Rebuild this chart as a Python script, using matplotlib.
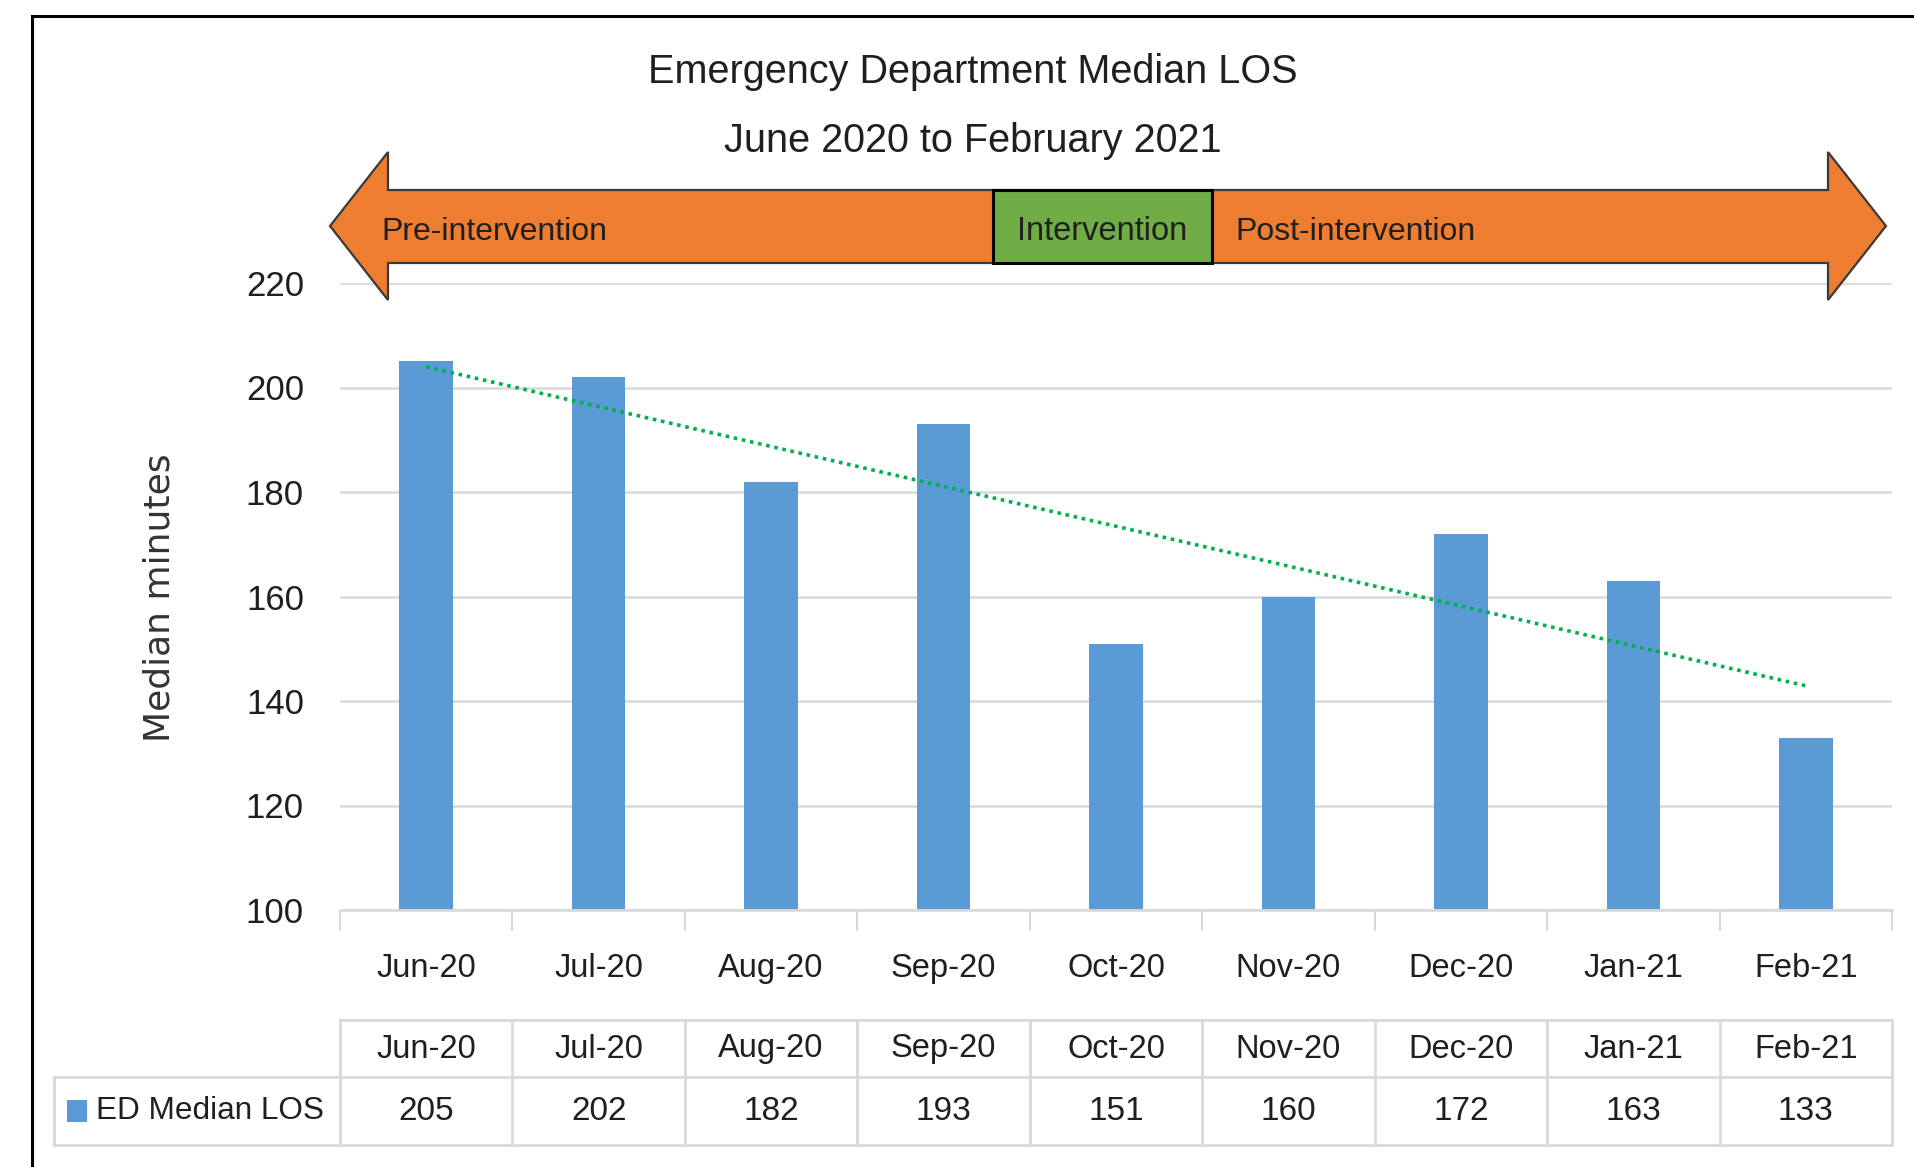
import numpy as np
import matplotlib
matplotlib.use("Agg")
import matplotlib.pyplot as plt
from matplotlib import font_manager
from matplotlib.patches import Polygon, Rectangle
from matplotlib.transforms import blended_transform_factory

# ---- data ----
categories = ["Jun-20", "Jul-20", "Aug-20", "Sep-20", "Oct-20", "Nov-20", "Dec-20", "Jan-21", "Feb-21"]
los_values = [205, 202, 182, 193, 151, 160, 172, 163, 133]
series_name = "ED Median LOS"
y_ticks = [100, 120, 140, 160, 180, 200, 220]
title_lines = ["Emergency Department Median LOS", "June 2020 to February 2021"]
phase_labels = ["Pre-intervention", "Intervention", "Post-intervention"]
y_label = "Median minutes"

names = {f.name for f in font_manager.fontManager.ttflist}
NARROW = "Liberation Sans Narrow" if "Liberation Sans Narrow" in names else "Liberation Sans"
TXT = "#1f1f1f"
GRID = "#D9D9D9"
BAR = "#5B9BD5"
ORANGE = "#ED7D31"
GREEN = "#70AD47"

W, H = 1914, 1167
fig = plt.figure(figsize=(W / 100, H / 100), dpi=100)
fig.patch.set_facecolor("white")

# main axes in pixel layout
x0, x1 = 340, 1892
y_top, y_bot = 283, 910
ax = fig.add_axes([x0 / W, (H - y_bot) / H, (x1 - x0) / W, (y_bot - y_top) / H])
n = len(categories)
xs = np.arange(n)
ax.bar(xs, los_values, width=0.31, color=BAR, zorder=2)
coef = np.polyfit(xs, los_values, 1)
ax.plot(xs, np.polyval(coef, xs), linestyle=(0, (1, 1.3)), color="#00B050", lw=2.6, zorder=3)
ax.set_xlim(-0.5, n - 0.5)
ax.set_ylim(100, 220)
ax.set_yticks(y_ticks)
ax.set_yticklabels([str(t) for t in y_ticks], fontfamily=NARROW, fontsize=25, color=TXT)
ax.set_xticks(xs)
ax.set_xticklabels(categories, fontfamily=NARROW, fontsize=23.5, color=TXT)
ax.set_xticks(np.arange(-0.5, n, 1.0), minor=True)
ax.tick_params(axis="x", which="major", length=0, pad=31)
ax.tick_params(axis="x", which="minor", length=15, color=GRID, width=1.5)
ax.tick_params(axis="y", length=0, pad=26)
for s in ["top", "right", "left"]:
    ax.spines[s].set_visible(False)
ax.spines["bottom"].set_color(GRID)
ax.spines["bottom"].set_linewidth(2)
ax.grid(axis="y", color=GRID, lw=1.8, zorder=0)
ax.set_axisbelow(True)

# overlay axes in pixel coordinates (y downward)
ov = fig.add_axes([0, 0, 1, 1], zorder=5)
ov.set_xlim(0, W)
ov.set_ylim(H, 0)
ov.axis("off")
ov.patch.set_alpha(0)

# border
ov.plot([32, W], [16, 16], color="black", lw=2.2)
ov.plot([32, 32], [16, H], color="black", lw=2.2)

# title
ov.text(973, 72, title_lines[0], ha="center", va="center", fontsize=28.5, fontfamily=NARROW, color=TXT)
ov.text(973, 141, title_lines[1], ha="center", va="center", fontsize=28.5, fontfamily=NARROW, color=TXT)

# y label
ov.text(159, 598, y_label, rotation=90, ha="center", va="center", fontsize=26,
        fontfamily="DejaVu Sans", color="#333333")

# double arrow
arrow = Polygon([(330, 226), (388, 152), (388, 190), (1828, 190), (1828, 152), (1886, 226),
                 (1828, 300), (1828, 263), (388, 263), (388, 300)], closed=True,
                facecolor=ORANGE, edgecolor="#3a3a3a", lw=1.6, zorder=1)
ov.add_patch(arrow)
ov.add_patch(Rectangle((993, 190), 219, 73, facecolor=GREEN, edgecolor="black", lw=2.2, zorder=2))
ov.text(381, 232, phase_labels[0], ha="left", va="center", fontsize=23, fontfamily=NARROW, color=TXT, zorder=3)
ov.text(1102, 232, phase_labels[1], ha="center", va="center", fontsize=23.5, fontfamily=NARROW, color=TXT, zorder=3)
ov.text(1235, 232, phase_labels[2], ha="left", va="center", fontsize=23, fontfamily=NARROW, color=TXT, zorder=3)

# data table
tr = blended_transform_factory(ax.transData, ov.transData)
t_top, t_mid, t_bot = 1020, 1077, 1145
ax_left_px = 54
edges = np.arange(-0.5, n, 1.0)
ov.plot([x0, x1], [t_top, t_top], color=GRID, lw=2)
ov.plot([ax_left_px, x1], [t_mid, t_mid], color=GRID, lw=2)
ov.plot([ax_left_px, x1], [t_bot, t_bot], color=GRID, lw=2)
ov.plot([ax_left_px, ax_left_px], [t_mid, t_bot], color=GRID, lw=2)
for e in edges:
    ov.plot([e, e], [t_top, t_bot], color=GRID, lw=2, transform=tr)
for i, (c, v) in enumerate(zip(categories, los_values)):
    ov.text(i, 1049, c, ha="center", va="center", fontsize=23.5, fontfamily=NARROW, color=TXT, transform=tr)
    ov.text(i, 1112, str(v), ha="center", va="center", fontsize=24, fontfamily=NARROW, color=TXT, transform=tr)
ov.add_patch(Rectangle((67, 1100), 20, 22, facecolor=BAR, edgecolor="none"))
ov.text(96, 1111, series_name, ha="left", va="center", fontsize=22.7, fontfamily=NARROW, color=TXT)

fig.savefig("out.png", dpi=100, facecolor="white")
